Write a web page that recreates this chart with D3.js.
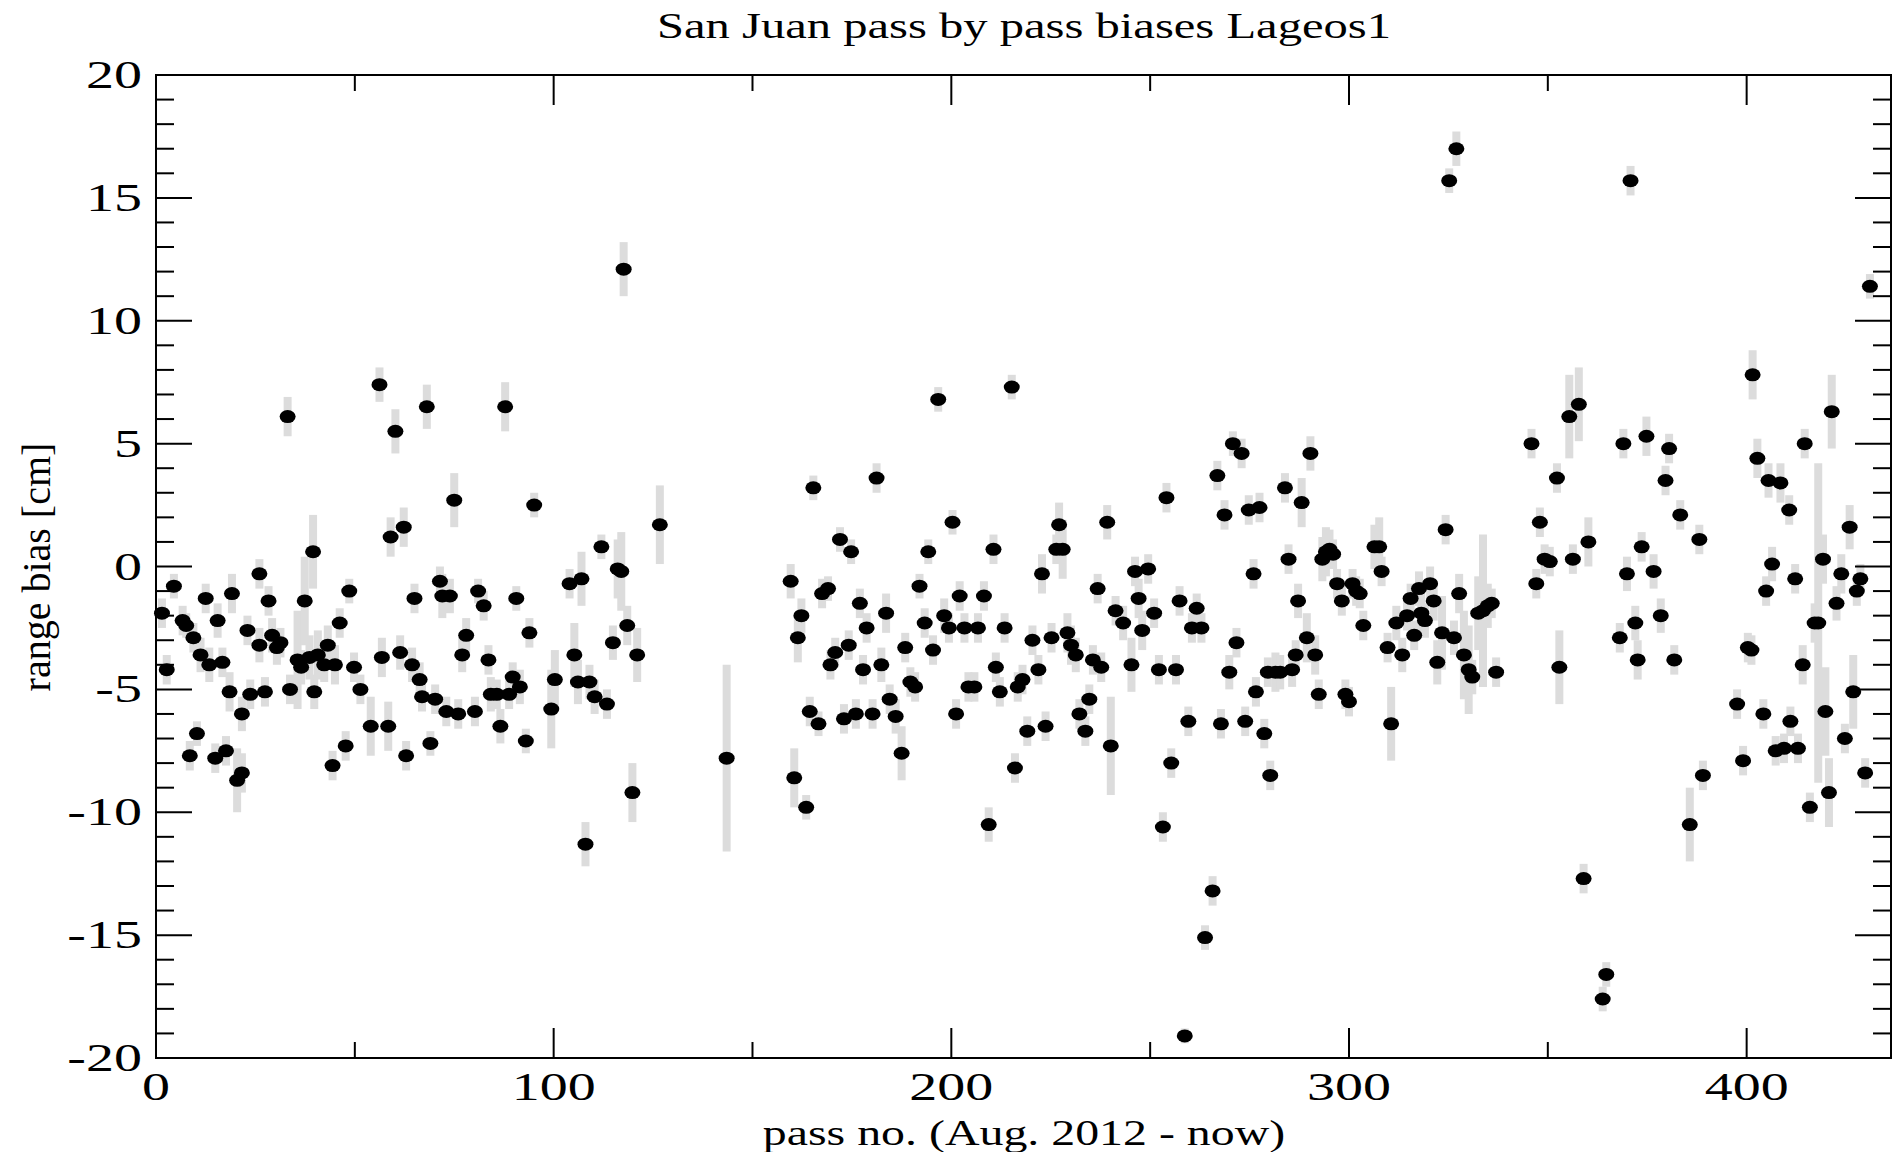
<!DOCTYPE html>
<html>
<head>
<meta charset="utf-8">
<script src="https://cdn.jsdelivr.net/npm/d3@7"></script>
<style>
  body { margin: 0; background: #fff; }
  text { font-family: "Liberation Serif", "DejaVu Serif", serif; fill: #000; }
</style>
</head>
<body>
<svg id="chart" width="1900" height="1152"></svg>
<script>
// pass number, range bias [cm], error half-length [cm]
var passes = [
  [1.5,-1.9,0.6],[2.7,-4.2,0.6],[4.5,-0.8,0.5],[6.7,-2.2,0.6],[7.6,-2.4,0.5],[8.5,-7.7,0.6],
  [9.4,-2.9,0.6],[10.3,-6.8,0.5],[11.2,-3.6,0.7],[12.5,-1.3,0.6],[13.4,-4,0.7],[14.9,-7.8,0.6],
  [15.5,-2.2,0.7],[16.7,-3.9,0.6],[17.6,-7.5,0.6],[18.5,-5.1,0.8],[19.1,-1.1,0.8],[20.4,-8.7,1.3],
  [21.6,-8.4,0.8],[21.6,-6,0.7],[23,-2.6,0.6],[23.7,-5.2,0.6],[26,-0.3,0.6],[26,-3.2,0.7],
  [27.4,-5.1,0.6],[28.3,-1.4,0.6],[29.2,-2.8,0.7],[30.4,-3.3,0.7],[31.3,-3.1,0.6],[33.1,6.1,0.8],
  [33.7,-5,0.6],[35.6,-3.8,2.0],[36.5,-4.1,0.7],[37.4,-1.4,1.8],[38.6,-3.7,0.9],[39.5,0.6,1.5],
  [39.8,-5.1,0.7],[40.7,-3.6,1.0],[42.3,-4,0.7],[43.2,-3.2,0.8],[44.4,-8.1,0.6],[45,-4,0.8],
  [46.2,-2.3,0.6],[47.7,-7.3,0.6],[48.6,-1,0.5],[49.8,-4.1,0.6],[51.4,-5,0.6],[54,-6.5,1.2],
  [56.2,7.4,0.7],[56.8,-3.7,0.8],[58.4,-6.5,1.0],[59,1.2,0.8],[60.2,5.5,0.9],[61.4,-3.5,0.7],
  [62.3,1.6,0.8],[62.9,-7.7,0.6],[64.4,-4,0.7],[65,-1.3,0.6],[66.3,-4.6,0.7],[66.9,-5.3,0.6],
  [68.1,6.5,0.9],[69,-7.2,0.5],[70.2,-5.4,0.6],[71.4,-0.6,0.6],[72,-1.2,0.9],[73,-5.9,0.6],
  [73.9,-1.2,0.7],[75,2.7,1.1],[76,-6,0.6],[77,-3.6,0.7],[78,-2.8,0.7],[80.2,-5.9,0.6],
  [81,-1,0.5],[82.4,-1.6,0.6],[83.6,-3.8,0.6],[84.2,-5.2,0.7],[85.7,-5.2,0.6],[86.6,-6.5,0.7],
  [87.8,6.5,1.0],[88.8,-5.2,0.6],[89.7,-4.5,0.6],[90.6,-1.3,0.5],[91.5,-4.9,0.7],[93,-7.1,0.5],
  [93.9,-2.7,0.6],[95.1,2.5,0.5],[99.4,-5.8,1.6],[100.3,-4.6,1.2],[104,-0.7,0.6],[105.2,-3.6,1.3],
  [106.1,-4.7,0.9],[107,-0.5,1.1],[108,-11.3,0.9],[109,-4.7,0.7],[110.3,-5.3,0.7],[112,0.8,0.5],
  [113.4,-5.6,0.6],[114.9,-3.1,0.7],[116.1,-0.1,1.2],[117,-0.2,1.6],[117.6,12.1,1.1],[118.5,-2.4,0.8],
  [119.8,-9.2,1.2],[121,-3.6,1.1],[126.7,1.7,1.6],[143.5,-7.8,3.8],
  [159.6,-0.6,0.7],[160.5,-8.6,1.2],[161.4,-2.9,1.0],[162.3,-2,0.7],[163.5,-9.8,0.5],[164.4,-5.9,0.6],
  [165.3,3.2,0.5],[166.6,-6.4,0.5],[167.5,-1.1,0.6],[169,-0.9,0.5],[169.6,-4,0.6],[170.8,-3.5,0.6],
  [172,1.1,0.5],[173,-6.2,0.6],[174.2,-3.2,0.6],[174.8,0.6,0.5],[176,-6,0.6],[177,-1.5,0.6],
  [177.8,-4.2,0.6],[178.7,-2.5,0.6],[180.2,-6,0.6],[181.2,3.6,0.6],[182.4,-4,0.7],[183.6,-1.9,0.8],
  [184.5,-5.4,0.6],[186,-6.1,0.7],[187.5,-7.6,1.1],[188.4,-3.3,0.6],[189.7,-4.7,0.6],[190.9,-4.9,0.6],
  [192,-0.8,0.5],[193.3,-2.3,0.6],[194.2,0.6,0.5],[195.4,-3.4,0.6],[196.7,6.8,0.5],[198.2,-2,0.7],
  [199.4,-2.5,0.6],[200.3,1.8,0.5],[201.2,-6,0.6],[202.1,-1.2,0.6],[203.3,-2.5,0.6],[204.3,-4.9,0.6],
  [205.8,-4.9,0.6],[206.7,-2.5,0.6],[208.2,-1.2,0.6],[209.4,-10.5,0.7],[210.6,0.7,0.6],[211.2,-4.1,0.6],
  [212.2,-5.1,0.6],[213.4,-2.5,0.6],[215.2,7.3,0.5],[216,-8.2,0.6],[216.7,-4.9,0.6],[217.9,-4.6,0.6],
  [219.1,-6.7,0.6],[220.4,-3,0.6],[221.9,-4.2,0.6],[222.8,-0.3,0.8],[223.7,-6.5,0.6],[225.2,-2.9,0.6],
  [226.4,0.7,0.6],[227.1,1.7,0.9],[228,0.7,1.2],[229.2,-2.7,0.8],[230.1,-3.2,0.8],[231.3,-3.6,0.7],
  [232.2,-6,0.6],[233.7,-6.7,0.6],[234.7,-5.4,0.6],[235.6,-3.8,0.6],[236.8,-0.9,0.6],[237.7,-4.1,0.6],
  [239.2,1.8,0.7],[240.1,-7.3,2.0],[241.3,-1.8,0.6],[243.2,-2.3,0.7],[245.3,-4,1.1],[246.2,-0.2,0.6],
  [247.1,-1.3,0.8],[248,-2.6,0.8],[249.5,-0.1,0.6],[251,-1.9,0.6],[252.2,-4.2,0.6],[253.2,-10.6,0.6],
  [254.1,2.8,0.6],[255.3,-8,0.6],[256.5,-4.2,0.6],[257.4,-1.4,0.6],[258.7,-19.1,0.3],[259.6,-6.3,0.6],
  [260.5,-2.5,0.6],[261.7,-1.7,0.6],[262.9,-2.5,0.6],[263.8,-15.1,0.5],[265.7,-13.2,0.6],[266.9,3.7,0.6],
  [267.8,-6.4,0.6],[268.7,2.1,0.6],[269.9,-4.3,0.7],[270.8,5,0.5],[271.7,-3.1,0.6],[273,4.6,0.6],
  [273.9,-6.3,0.6],[274.8,2.3,0.6],[276,-0.3,0.6],[276.6,-5.1,0.6],[277.5,2.4,0.6],[278.7,-6.8,0.6],
  [279.6,-4.3,0.6],[280.2,-8.5,0.6],[281.5,-4.3,0.8],[282.7,-4.3,0.7],[283.9,3.2,0.6],[284.8,0.3,0.6],
  [285.7,-4.2,0.7],[286.6,-3.6,0.6],[287.2,-1.4,0.7],[288.1,2.6,1.0],[289.4,-2.9,1.0],[290.3,4.6,0.7],
  [291.5,-3.6,0.8],[292.4,-5.2,0.6],[293.3,0.3,0.9],[294.2,0.6,1.0],[295.1,0.7,0.8],[296,0.5,0.6],
  [297,-0.7,0.6],[298.2,-1.4,0.6],[299.1,-5.2,0.6],[300,-5.5,0.6],[300.9,-0.7,0.6],[301.8,-1,0.6],
  [302.7,-1.1,0.6],[303.6,-2.4,0.6],[306.4,0.8,0.9],[307.6,0.8,1.2],[308.2,-0.2,0.6],[309.7,-3.3,0.6],
  [310.6,-6.4,1.5],[311.9,-2.3,0.7],[313.4,-3.6,0.7],[314.6,-2,0.6],[315.5,-1.3,0.6],[316.4,-2.8,0.6],
  [317.6,-0.9,0.7],[318.2,-1.9,0.8],[319.1,-2.2,0.7],[320.4,-0.7,0.7],[321.3,-1.4,0.8],[322.2,-3.9,0.9],
  [323.4,-2.7,1.5],[324.3,1.5,0.6],[325.2,15.7,0.5],[326.4,-2.9,0.7],[327,17,0.7],[327.7,-1.1,0.8],
  [328.9,-3.6,1.8],[330.1,-4.2,1.8],[331,-4.5,0.7],[332.5,-1.9,1.5],[333.7,-1.8,3.1],[334.9,-1.6,0.9],
  [335.9,-1.5,0.6],[337,-4.3,0.6],[345.9,5,0.6],[347.1,-0.7,0.6],[348,1.8,0.6],[349.2,0.3,0.6],
  [350.5,0.2,0.6],[352.3,3.6,0.6],[352.9,-4.1,1.5],[355.4,6.1,1.7],[356.3,0.3,0.6],[357.8,6.6,1.5],
  [359,-12.7,0.6],[360.2,1,1.0],[363.8,-17.6,0.5],[364.7,-16.6,0.5],[368.1,-2.9,0.6],[369,5,0.6],
  [369.9,-0.3,0.7],[370.8,15.7,0.6],[372,-2.3,0.7],[372.6,-3.8,0.8],[373.6,0.8,0.6],[374.8,5.3,0.8],
  [376.6,-0.2,0.7],[378.4,-2,0.7],[379.6,3.5,0.6],[380.5,4.8,0.6],[381.8,-3.8,0.6],[383.3,2.1,0.6],
  [385.7,-10.5,1.5],[388.1,1.1,0.6],[389,-8.5,0.6],[397.6,-5.6,0.6],[399.1,-7.9,0.6],[400.3,-3.3,0.6],
  [401.2,-3.4,0.6],[401.5,7.8,1.0],[402.7,4.4,0.8],[404.2,-6,0.6],[404.9,-1,0.6],[405.5,3.5,0.7],
  [406.4,0.1,0.7],[407.3,-7.5,0.6],[408.5,3.4,0.8],[409.4,-7.4,0.6],[410.7,2.3,0.6],[411,-6.3,0.6],
  [412.2,-0.5,0.6],[412.9,-7.4,0.6],[414.1,-4,0.8],[414.6,5,0.6],[415.9,-9.8,0.6],[417.1,-2.3,0.8],
  [418,-2.3,6.5],[419.2,0.3,1.0],[419.8,-5.9,1.8],[420.7,-9.2,1.4],[421.4,6.3,1.5],[422.6,-1.5,0.7],
  [423.8,-0.3,0.8],[424.7,-7,0.6],[425.9,1.6,0.9],[426.8,-5.1,1.5],[427.7,-1,0.6],[428.6,-0.5,0.6],
  [429.8,-8.4,0.6],[431,11.4,0.5]
];
var xTicks = [0, 100, 200, 300, 400];
var xMinor = [50, 150, 250, 350];
var yTicks = [-20, -15, -10, -5, 0, 5, 10, 15, 20];
var yMinor = d3.range(-19, 20).filter(function (v) { return v % 5 != 0; });

var svg = d3.select('#chart');
var pLeft = 156, pRight = 1891, pTop = 75, pBottom = 1058;

var x = d3.scaleLinear().domain([0, 436.3]).range([pLeft, pRight]);
var y = d3.scaleLinear().domain([-20, 20]).range([pBottom, pTop]);

// error bars
svg.append('g').selectAll('line')
  .data(passes).enter().append('line')
    .attr('x1', function (d) { return x(d[0]); })
    .attr('x2', function (d) { return x(d[0]); })
    .attr('y1', function (d) { return y(Math.max(-20, d[1] - d[2])); })
    .attr('y2', function (d) { return y(Math.min(20, d[1] + d[2])); })
    .attr('stroke', '#dcdcdc')
    .attr('stroke-width', 8);

// points
svg.append('g').selectAll('ellipse')
  .data(passes).enter().append('ellipse')
    .attr('cx', function (d) { return x(d[0]); })
    .attr('cy', function (d) { return y(d[1]); })
    .attr('rx', 8)
    .attr('ry', 6.5)
    .attr('fill', '#000');

// frame
svg.append('rect')
  .attr('x', pLeft).attr('y', pTop)
  .attr('width', pRight - pLeft).attr('height', pBottom - pTop)
  .attr('fill', 'none').attr('stroke', '#000').attr('stroke-width', 2);

// inward ticks on all four sides
function ticks(g, values, len, fn) {
  g.selectAll(null).data(values).enter().append('line')
    .each(function (v) { var c = fn(v, len);
      d3.select(this).attr('x1', c[0]).attr('x2', c[1]).attr('y1', c[2]).attr('y2', c[3]); })
    .attr('stroke', '#000').attr('stroke-width', 2);
}
var tg = svg.append('g');
ticks(tg, yTicks, 36, function (v, l) { return [pLeft, pLeft + l, y(v), y(v)]; });
ticks(tg, yMinor, 18, function (v, l) { return [pLeft, pLeft + l, y(v), y(v)]; });
ticks(tg, yTicks, 36, function (v, l) { return [pRight, pRight - l, y(v), y(v)]; });
ticks(tg, yMinor, 18, function (v, l) { return [pRight, pRight - l, y(v), y(v)]; });
ticks(tg, xTicks, 30, function (v, l) { return [x(v), x(v), pBottom, pBottom - l]; });
ticks(tg, xMinor, 16, function (v, l) { return [x(v), x(v), pBottom, pBottom - l]; });
ticks(tg, xTicks, 30, function (v, l) { return [x(v), x(v), pTop, pTop + l]; });
ticks(tg, xMinor, 16, function (v, l) { return [x(v), x(v), pTop, pTop + l]; });

// text in the reference is stretched sideways
function label(px, py, str, size, sx, anchor) {
  svg.append('text')
    .attr('transform', 'translate(' + px + ',' + py + ') scale(' + sx + ',1)')
    .attr('text-anchor', anchor).attr('font-size', size)
    .text(str);
}
yTicks.forEach(function (v) { label(pLeft - 14, y(v) + 13, v, 40, 1.4, 'end'); });
xTicks.forEach(function (v) { label(x(v), pBottom + 42, v, 40, 1.4, 'middle'); });

label(1024, 38, 'San Juan pass by pass biases Lageos1', 36, 1.35, 'middle');
label(1024, 1145, 'pass no. (Aug. 2012 - now)', 36, 1.33, 'middle');

svg.append('text')
  .attr('transform', 'translate(50,567) rotate(-90)')
  .attr('text-anchor', 'middle').attr('font-size', 40)
  .text('range bias [cm]');
</script>
</body>
</html>
